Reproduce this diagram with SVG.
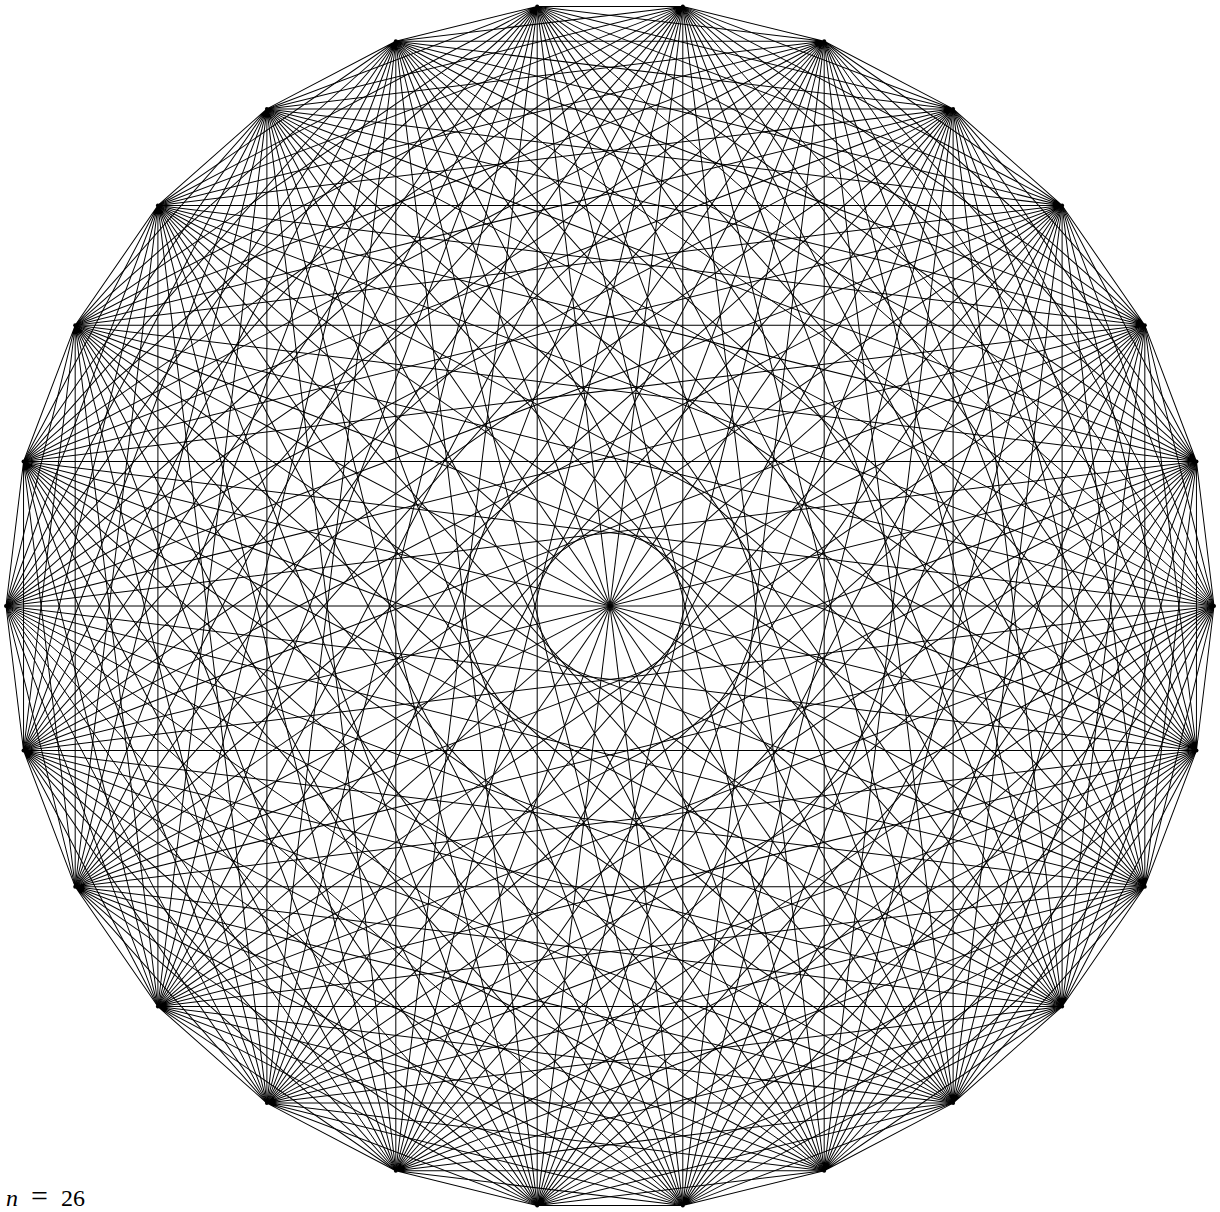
<svg xmlns="http://www.w3.org/2000/svg" xmlns:xlink="http://www.w3.org/1999/xlink" width="1220" height="1212" viewBox="0 0 1220 1212">
<style>
.e{fill:none;stroke:#000;stroke-width:1}
.v{fill:#000}
</style>
<defs>
<path id="fan" class="e" d="M604 0L586.45 -144.55M604 0L534.82 -280.69M604 0L452.10 -400.53M604 0L343.11 -497.08M604 0L214.18 -564.75M604 0L72.80 -599.60M604 0L-72.80 -599.60M604 0L-214.18 -564.75M604 0L-343.11 -497.08M604 0L-452.10 -400.53M604 0L-534.82 -280.69M604 0L-586.45 -144.55"/>
<path id="dia" class="e" d="M604 0L-604 0"/>
</defs>
<rect width="1220" height="1212" fill="#fff"/>
<g id="edges" transform="translate(610,606)">
<use xlink:href="#fan" href="#fan" transform="rotate(0)"/>
<use xlink:href="#fan" href="#fan" transform="rotate(13.846154)"/>
<use xlink:href="#fan" href="#fan" transform="rotate(27.692308)"/>
<use xlink:href="#fan" href="#fan" transform="rotate(41.538462)"/>
<use xlink:href="#fan" href="#fan" transform="rotate(55.384615)"/>
<use xlink:href="#fan" href="#fan" transform="rotate(69.230769)"/>
<use xlink:href="#fan" href="#fan" transform="rotate(83.076923)"/>
<use xlink:href="#fan" href="#fan" transform="rotate(96.923077)"/>
<use xlink:href="#fan" href="#fan" transform="rotate(110.769231)"/>
<use xlink:href="#fan" href="#fan" transform="rotate(124.615385)"/>
<use xlink:href="#fan" href="#fan" transform="rotate(138.461538)"/>
<use xlink:href="#fan" href="#fan" transform="rotate(152.307692)"/>
<use xlink:href="#fan" href="#fan" transform="rotate(166.153846)"/>
<use xlink:href="#fan" href="#fan" transform="rotate(180)"/>
<use xlink:href="#fan" href="#fan" transform="rotate(193.846154)"/>
<use xlink:href="#fan" href="#fan" transform="rotate(207.692308)"/>
<use xlink:href="#fan" href="#fan" transform="rotate(221.538462)"/>
<use xlink:href="#fan" href="#fan" transform="rotate(235.384615)"/>
<use xlink:href="#fan" href="#fan" transform="rotate(249.230769)"/>
<use xlink:href="#fan" href="#fan" transform="rotate(263.076923)"/>
<use xlink:href="#fan" href="#fan" transform="rotate(276.923077)"/>
<use xlink:href="#fan" href="#fan" transform="rotate(290.769231)"/>
<use xlink:href="#fan" href="#fan" transform="rotate(304.615385)"/>
<use xlink:href="#fan" href="#fan" transform="rotate(318.461538)"/>
<use xlink:href="#fan" href="#fan" transform="rotate(332.307692)"/>
<use xlink:href="#fan" href="#fan" transform="rotate(346.153846)"/>
<use xlink:href="#dia" href="#dia" transform="rotate(0)"/>
<use xlink:href="#dia" href="#dia" transform="rotate(13.846154)"/>
<use xlink:href="#dia" href="#dia" transform="rotate(27.692308)"/>
<use xlink:href="#dia" href="#dia" transform="rotate(41.538462)"/>
<use xlink:href="#dia" href="#dia" transform="rotate(55.384615)"/>
<use xlink:href="#dia" href="#dia" transform="rotate(69.230769)"/>
<use xlink:href="#dia" href="#dia" transform="rotate(83.076923)"/>
<use xlink:href="#dia" href="#dia" transform="rotate(96.923077)"/>
<use xlink:href="#dia" href="#dia" transform="rotate(110.769231)"/>
<use xlink:href="#dia" href="#dia" transform="rotate(124.615385)"/>
<use xlink:href="#dia" href="#dia" transform="rotate(138.461538)"/>
<use xlink:href="#dia" href="#dia" transform="rotate(152.307692)"/>
<use xlink:href="#dia" href="#dia" transform="rotate(166.153846)"/>
</g>
<g id="v0"><circle class="v" cx="1214" cy="606" r="2"/></g>
<g id="v1"><circle class="v" cx="1196.45" cy="461.45" r="2"/></g>
<g id="v2"><circle class="v" cx="1144.82" cy="325.31" r="2"/></g>
<g id="v3"><circle class="v" cx="1062.10" cy="205.47" r="2"/></g>
<g id="v4"><circle class="v" cx="953.11" cy="108.92" r="2"/></g>
<g id="v5"><circle class="v" cx="824.18" cy="41.25" r="2"/></g>
<g id="v6"><circle class="v" cx="682.80" cy="6.40" r="2"/></g>
<g id="v7"><circle class="v" cx="537.20" cy="6.40" r="2"/></g>
<g id="v8"><circle class="v" cx="395.82" cy="41.25" r="2"/></g>
<g id="v9"><circle class="v" cx="266.89" cy="108.92" r="2"/></g>
<g id="v10"><circle class="v" cx="157.90" cy="205.47" r="2"/></g>
<g id="v11"><circle class="v" cx="75.18" cy="325.31" r="2"/></g>
<g id="v12"><circle class="v" cx="23.55" cy="461.45" r="2"/></g>
<g id="v13"><circle class="v" cx="6" cy="606" r="2"/></g>
<g id="v14"><circle class="v" cx="23.55" cy="750.55" r="2"/></g>
<g id="v15"><circle class="v" cx="75.18" cy="886.69" r="2"/></g>
<g id="v16"><circle class="v" cx="157.90" cy="1006.53" r="2"/></g>
<g id="v17"><circle class="v" cx="266.89" cy="1103.08" r="2"/></g>
<g id="v18"><circle class="v" cx="395.82" cy="1170.75" r="2"/></g>
<g id="v19"><circle class="v" cx="537.20" cy="1205.60" r="2"/></g>
<g id="v20"><circle class="v" cx="682.80" cy="1205.60" r="2"/></g>
<g id="v21"><circle class="v" cx="824.18" cy="1170.75" r="2"/></g>
<g id="v22"><circle class="v" cx="953.11" cy="1103.08" r="2"/></g>
<g id="v23"><circle class="v" cx="1062.10" cy="1006.53" r="2"/></g>
<g id="v24"><circle class="v" cx="1144.82" cy="886.69" r="2"/></g>
<g id="v25"><circle class="v" cx="1196.45" cy="750.55" r="2"/></g>
<text font-family="'Liberation Serif', 'DejaVu Serif', serif" font-size="24" fill="#000" y="1206"><tspan x="6" font-style="italic">n</tspan><tspan x="31" font-size="30">=</tspan><tspan x="61">26</tspan></text>
</svg>
